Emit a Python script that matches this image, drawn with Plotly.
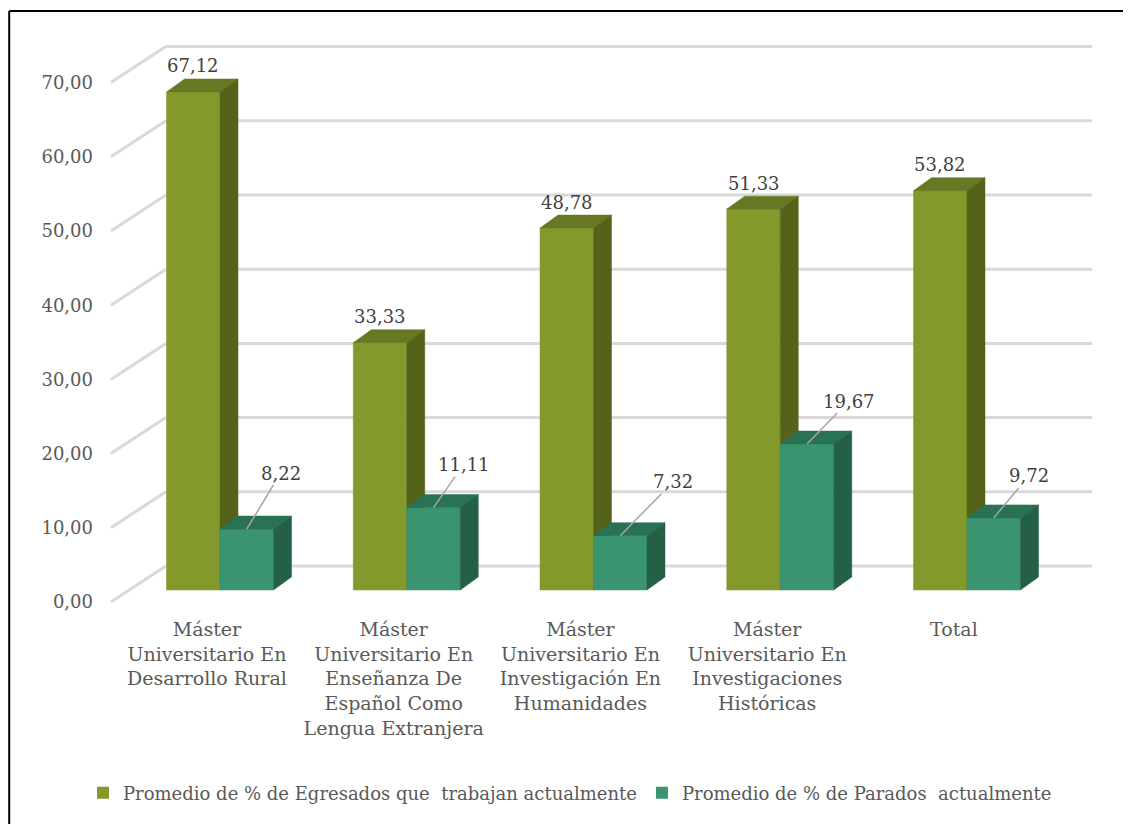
import plotly.graph_objects as go

# ---------------- data ----------------
categories = [
    "Máster<br>Universitario En<br>Desarrollo Rural",
    "Máster<br>Universitario En<br>Enseñanza De<br>Español Como<br>Lengua Extranjera",
    "Máster<br>Universitario En<br>Investigación En<br>Humanidades",
    "Máster<br>Universitario En<br>Investigaciones<br>Históricas",
    "Total",
]
egresados = [67.12, 33.33, 48.78, 51.33, 53.82]
parados = [8.22, 11.11, 7.32, 19.67, 9.72]
series_names = [
    "Promedio de % de Egresados que  trabajan actualmente",
    "Promedio de % de Parados  actualmente",
]
y_ticks = [0, 10, 20, 30, 40, 50, 60, 70]

# label offsets (pixels) for the second series' data labels
parados_label_offsets = [(34, -56), (30, -43), (53, -54), (42, -43), (35, -42)]

# ---------------- style / geometry ----------------
FONT = "DejaVu Serif"
FS = 18
FS_CAT = 19
TXT = "#595959"
LBL = "#404040"
GREEN = {"front": "#84992c", "top": "#667822", "side": "#55631a"}
TEAL = {"front": "#3a9470", "top": "#2a7254", "side": "#246046"}
GRID = "#d9d9d9"

BW = 0.2865       # bar width (category units)
DX = 0.0964       # depth, x (category units)
DY = 1.75         # depth, y (value units)
FRONT_OFF = -1.617  # front axis plane offset (value units)
BACK_OFF = 3.234    # back wall offset (value units)
X_FRONT = -0.584    # x of front-left axis edge
X_BACK = -0.29      # x of back-left wall edge
X_BACK_R = 4.67     # x of back wall right end
X_RANGE = [-0.6426, 4.7122]
Y_RANGE = [-2.695, 75.47]


def faces(xl, v):
    xr = xl + BW
    front = [(xl, 0), (xr, 0), (xr, v), (xl, v), (xl, 0)]
    top = [(xl, v), (xr, v), (xr + DX, v + DY), (xl + DX, v + DY), (xl, v)]
    side = [(xr, 0), (xr + DX, DY), (xr + DX, v + DY), (xr, v), (xr, 0)]
    return front, top, side


fig = go.Figure()


def add_series(values, offset, colors):
    polys = {"front": [], "top": [], "side": []}
    for i, v in enumerate(values):
        f, t, s = faces(i + offset, v)
        polys["front"].append(f)
        polys["top"].append(t)
        polys["side"].append(s)
    for key in ["front", "top", "side"]:
        xs, ys = [], []
        for p in polys[key]:
            xs += [q[0] for q in p] + [None]
            ys += [q[1] for q in p] + [None]
        fig.add_trace(go.Scatter(
            x=xs, y=ys, mode="lines", fill="toself",
            fillcolor=colors[key], line=dict(width=0.5, color=colors[key]),
            hoverinfo="skip", showlegend=False,
        ))


add_series(egresados, -BW, GREEN)
add_series(parados, 0.0, TEAL)

# legend entries
for name, col in zip(series_names, [GREEN["front"], TEAL["front"]]):
    fig.add_trace(go.Scatter(
        x=[None], y=[None], mode="markers", name=name,
        marker=dict(symbol="square", size=12, color=col),
    ))

# gridlines (side wall diagonal + back wall horizontal)
shapes = []
for v in y_ticks:
    shapes.append(dict(type="line", xref="x", yref="y", layer="below",
                       x0=X_FRONT, y0=v + FRONT_OFF, x1=X_BACK, y1=v + BACK_OFF,
                       line=dict(color=GRID, width=3)))
    shapes.append(dict(type="line", xref="x", yref="y", layer="below",
                       x0=X_BACK, y0=v + BACK_OFF, x1=X_BACK_R, y1=v + BACK_OFF,
                       line=dict(color=GRID, width=3)))
# outer frame: left and top edges (right/bottom lie outside the picture)
shapes.append(dict(type="line", xref="paper", yref="paper",
                   x0=-0.0908, y0=-0.5, x1=-0.0908, y1=1.0328,
                   line=dict(color="black", width=2), layer="above"))
shapes.append(dict(type="line", xref="paper", yref="paper",
                   x0=-0.0908, y0=1.0328, x1=1.2, y1=1.0328,
                   line=dict(color="black", width=2), layer="above"))


def fmt(v):
    return f"{v:.2f}".replace(".", ",")


annotations = []
for i, v in enumerate(egresados):
    annotations.append(dict(
        x=i - BW / 2, y=v + DY, xref="x", yref="y", text=fmt(v),
        showarrow=False, xanchor="center", yanchor="middle", yshift=13,
        font=dict(family=FONT, size=FS, color=LBL),
    ))
for i, v in enumerate(parados):
    ax, ay = parados_label_offsets[i]
    annotations.append(dict(
        x=i + BW / 2, y=v, xref="x", yref="y", text=fmt(v),
        showarrow=True, arrowhead=0, arrowwidth=1.5, arrowcolor="#a6a6a6",
        standoff=0, ax=ax, ay=ay,
        font=dict(family=FONT, size=FS, color=LBL),
    ))

fig.update_layout(
    width=1123, height=816,
    margin=dict(l=92, r=31, t=22, b=214),
    paper_bgcolor="white", plot_bgcolor="white",
    font=dict(family=FONT, size=FS, color=TXT),
    shapes=shapes, annotations=annotations,
    showlegend=True,
    legend=dict(orientation="h", x=0.47, xanchor="center", y=-0.3155, yanchor="middle",
                font=dict(family=FONT, size=FS, color=TXT), itemsizing="constant"),
    xaxis=dict(range=X_RANGE, showgrid=False, zeroline=False, showline=False,
               ticks="", tickvals=[i - 0.07 for i in range(len(categories))],
               ticktext=categories, tickfont=dict(family=FONT, size=FS_CAT, color=TXT),
               ticklabelstandoff=6, fixedrange=True),
    yaxis=dict(range=Y_RANGE, showgrid=False, zeroline=False, showline=False,
               ticks="", tickvals=[v + FRONT_OFF for v in y_ticks],
               ticktext=[fmt(v) for v in y_ticks],
               tickfont=dict(family=FONT, size=FS, color=TXT), ticklabelstandoff=6,
               fixedrange=True),
)

fig.write_html("out.html")
